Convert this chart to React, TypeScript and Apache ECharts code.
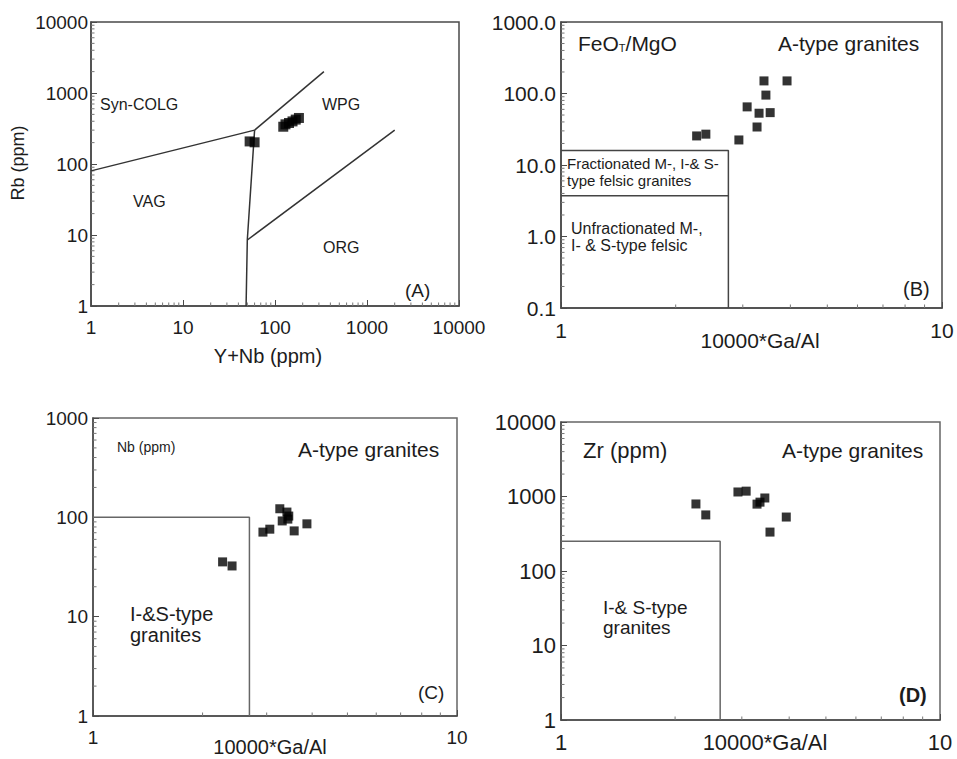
import React, { useEffect, useRef } from "react";
import * as echarts from "echarts";

// ---------- Panel A: Rb vs Y+Nb ----------
const aYNb = [53, 60, 123, 130, 142, 155, 168, 182];
const aRb = [208, 202, 335, 362, 378, 398, 422, 445];
const aSynColgX = [1, 60];
const aSynColgY = [80, 300];
const aWpgUpperX = [60, 340];
const aWpgUpperY = [300, 2000];
const aVagWpgX = [60, 50, 48.5];
const aVagWpgY = [300, 8.5, 1];
const aOrgX = [50, 2000];
const aOrgY = [8.5, 300];

// ---------- Panel B: FeOT/MgO vs 10000*Ga/Al ----------
const bGaAl = [3.41, 3.92, 3.45, 3.08, 3.31, 3.54, 3.27, 2.93, 2.27, 2.4];
const bFeMg = [150, 150, 95, 65, 53, 54, 34, 22.4, 25.5, 27];
const bFracBoxX = [1, 2.75, 2.75];
const bFracBoxY = [16, 16, 0.1];
const bUnfracX = [1, 2.75];
const bUnfracY = [3.7, 3.7];

// ---------- Panel C: Nb vs 10000*Ga/Al ----------
const cGaAl = [3.26, 3.41, 3.45, 3.31, 3.43, 3.57, 3.87, 2.93, 3.06, 2.27, 2.41];
const cNb = [122, 113, 103, 92, 96, 73, 86, 71, 76, 35.6, 32.4];
const cBoxX = [1, 2.69, 2.69];
const cBoxY = [100, 100, 1];

// ---------- Panel D: Zr vs 10000*Ga/Al ----------
const dGaAl = [2.27, 2.41, 2.93, 3.08, 3.29, 3.35, 3.45, 3.56, 3.93];
const dZr = [794, 566, 1150, 1180, 790, 840, 955, 333, 530];
const dBoxX = [1, 2.63, 2.63];
const dBoxY = [250, 250, 1];

const FONT = "'Liberation Sans', Arial, Helvetica, sans-serif";
const INK = "#1c1c1c";
const FRAME = "#4a4a4a";

const zip = (xs: number[], ys: number[]) => xs.map((x, i) => [x, ys[i]]);

function minorTicks(xMin: number, xMax: number, yMin: number, yMax: number) {
  const out: number[][] = [];
  for (let d = Math.floor(Math.log10(xMin)); d < Math.round(Math.log10(xMax)); d++) {
    for (let k = 2; k <= 9; k++) out.push([k * Math.pow(10, d), yMin, 0]);
  }
  for (let d = Math.floor(Math.log10(yMin)); d < Math.round(Math.log10(yMax)); d++) {
    for (let k = 2; k <= 9; k++) out.push([xMin, k * Math.pow(10, d), 1]);
  }
  return out;
}

const intFmt = (v: number) => String(Math.round(v));
const oneDecFmt = (v: number) => Number(v.toPrecision(6)).toFixed(1);

function xAxisDef(gridIndex: number, min: number, max: number, fontSize: number, margin: number) {
  return {
    type: "log",
    logBase: 10,
    gridIndex,
    min,
    max,
    axisLine: { show: true, lineStyle: { color: FRAME, width: 1.5 } },
    axisTick: { show: true, inside: true, length: 6, lineStyle: { color: FRAME, width: 1 } },
    splitLine: { show: false },
    axisLabel: {
      show: true,
      fontSize,
      fontFamily: FONT,
      color: INK,
      margin,
      showMinLabel: true,
      showMaxLabel: true,
      formatter: intFmt,
    },
  };
}

function yAxisDef(
  gridIndex: number,
  min: number,
  max: number,
  fontSize: number,
  margin: number,
  fmt: (v: number) => string
) {
  return {
    type: "log",
    logBase: 10,
    gridIndex,
    min,
    max,
    axisLine: { show: true, lineStyle: { color: FRAME, width: 1.5 } },
    axisTick: { show: true, inside: true, length: 6, lineStyle: { color: FRAME, width: 1 } },
    splitLine: { show: false },
    axisLabel: {
      show: true,
      fontSize,
      fontFamily: FONT,
      color: INK,
      margin,
      showMinLabel: true,
      showMaxLabel: true,
      formatter: fmt,
    },
  };
}

function lineSeries(idx: number, xs: number[], ys: number[], color = "#333") {
  return {
    type: "line",
    xAxisIndex: idx,
    yAxisIndex: idx,
    data: zip(xs, ys),
    symbol: "none",
    silent: true,
    lineStyle: { color, width: 1.5 },
    z: 3,
  };
}

function scatterSeries(idx: number, xs: number[], ys: number[], size: number) {
  return {
    type: "scatter",
    xAxisIndex: idx,
    yAxisIndex: idx,
    data: zip(xs, ys),
    symbol: "rect",
    symbolSize: size,
    itemStyle: { color: "#000" },
    z: 5,
  };
}

function minorSeries(idx: number, xMin: number, xMax: number, yMin: number, yMax: number) {
  return {
    type: "custom",
    xAxisIndex: idx,
    yAxisIndex: idx,
    silent: true,
    clip: false,
    data: minorTicks(xMin, xMax, yMin, yMax),
    renderItem: (_p: any, api: any) => {
      const pt = api.coord([api.value(0), api.value(1)]);
      const kind = api.value(2);
      const len = 3.5;
      return {
        type: "line",
        shape:
          kind === 0
            ? { x1: pt[0], y1: pt[1], x2: pt[0], y2: pt[1] - len }
            : { x1: pt[0], y1: pt[1], x2: pt[0] + len, y2: pt[1] },
        style: { stroke: "#777", lineWidth: 1 },
      };
    },
  };
}

function txt(
  text: string,
  x: number,
  y: number,
  fontSize: number,
  align: "left" | "center" | "right" = "left",
  extra: any = {}
) {
  return {
    type: "text",
    x,
    y,
    silent: true,
    ...extra,
    style: {
      text,
      fontSize,
      fontFamily: FONT,
      fill: INK,
      align,
      verticalAlign: "middle",
      ...(extra.style || {}),
    },
  };
}

export default function App() {
  const ref = useRef<HTMLDivElement>(null);

  useEffect(() => {
    if (!ref.current) return;
    const chart = echarts.init(ref.current, null, { renderer: "svg" });

    const option: any = {
      animation: false,
      backgroundColor: "#fff",
      textStyle: { fontFamily: FONT },
      grid: [
        { left: 91, top: 22, width: 368, height: 284, show: true, borderColor: FRAME, borderWidth: 1.5 },
        { left: 561, top: 22, width: 381, height: 286, show: true, borderColor: FRAME, borderWidth: 1.5 },
        { left: 93, top: 418, width: 364, height: 298, show: true, borderColor: "#666", borderWidth: 1.5 },
        { left: 561, top: 422, width: 379, height: 298, show: true, borderColor: "#666", borderWidth: 1.5 },
      ],
      xAxis: [
        xAxisDef(0, 1, 10000, 19, 12),
        xAxisDef(1, 1, 10, 21, 12),
        xAxisDef(2, 1, 10, 19, 12),
        xAxisDef(3, 1, 10, 22, 11),
      ],
      yAxis: [
        yAxisDef(0, 1, 10000, 19, 3, intFmt),
        yAxisDef(1, 0.1, 1000, 21, 5, oneDecFmt),
        yAxisDef(2, 1, 1000, 19, 5, intFmt),
        yAxisDef(3, 1, 10000, 22, 5, intFmt),
      ],
      series: [
        // Panel A
        minorSeries(0, 1, 10000, 1, 10000),
        lineSeries(0, aSynColgX, aSynColgY),
        lineSeries(0, aWpgUpperX, aWpgUpperY),
        lineSeries(0, aVagWpgX, aVagWpgY),
        lineSeries(0, aOrgX, aOrgY),
        scatterSeries(0, aYNb, aRb, 10),
        // Panel B
        minorSeries(1, 1, 10, 0.1, 1000),
        lineSeries(1, bFracBoxX, bFracBoxY, "#444"),
        lineSeries(1, bUnfracX, bUnfracY, "#444"),
        scatterSeries(1, bGaAl, bFeMg, 9),
        // Panel C
        minorSeries(2, 1, 10, 1, 1000),
        lineSeries(2, cBoxX, cBoxY, "#666"),
        scatterSeries(2, cGaAl, cNb, 9),
        // Panel D
        minorSeries(3, 1, 10, 1, 10000),
        lineSeries(3, dBoxX, dBoxY, "#666"),
        scatterSeries(3, dGaAl, dZr, 9),
      ],
      graphic: [
        // Panel A
        txt("Rb (ppm)", 18, 163, 18, "center", { rotation: Math.PI / 2 }),
        txt("Y+Nb (ppm)", 268, 356, 20, "center"),
        txt("Syn-COLG", 100, 104, 16),
        txt("WPG", 322, 104, 16),
        txt("VAG", 133, 201, 16),
        txt("ORG", 323, 247, 16),
        txt("(A)", 405, 290, 19),
        // Panel B
        {
          type: "text",
          x: 578,
          y: 43,
          silent: true,
          style: {
            text: "{a|FeO}{b|T}{a|/MgO}",
            fontFamily: FONT,
            fill: INK,
            verticalAlign: "middle",
            rich: {
              a: { fontSize: 21, fontFamily: FONT, fill: INK },
              b: { fontSize: 11, fontFamily: FONT, fill: INK, padding: [9, 0, 0, 0] },
            },
          },
        },
        txt("A-type granites", 778, 43, 21),
        txt("Fractionated M-, I-& S-", 567, 163, 15),
        txt("type felsic granites", 567, 180, 15),
        txt("Unfractionated M-,", 571, 228, 16),
        txt("I- & S-type felsic", 571, 245, 16),
        txt("(B)", 903, 289, 20),
        txt("10000*Ga/Al", 760, 340, 21, "center"),
        // Panel C
        txt("Nb (ppm)", 117, 447, 14),
        txt("A-type granites", 298, 449, 21),
        txt("I-&S-type", 130, 614, 20),
        txt("granites", 130, 635, 20),
        txt("(C)", 418, 692, 19),
        txt("10000*Ga/Al", 270, 747, 20, "center"),
        // Panel D
        txt("Zr (ppm)", 583, 450, 22),
        txt("A-type granites", 782, 450, 21),
        txt("I-& S-type", 603, 607, 19),
        txt("granites", 603, 627, 19),
        txt("(D)", 899, 695, 20, "left", { style: { fontWeight: "bold" } }),
        txt("10000*Ga/Al", 765, 742, 22, "center"),
      ],
    };

    chart.setOption(option);
    return () => {
      chart.dispose();
    };
  }, []);

  return (
    <div
      ref={ref}
      style={{ position: "absolute", left: 0, top: 0, width: 957, height: 759, background: "#fff" }}
    />
  );
}
